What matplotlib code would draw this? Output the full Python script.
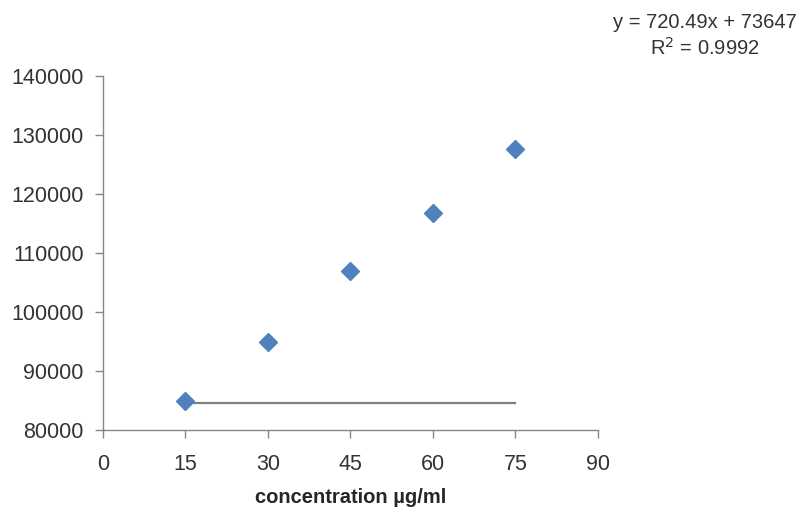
# Calibration scatter: peak area vs concentration, with the fit equation

import matplotlib.pyplot as plt
import numpy as np

conc = [15, 30, 45, 60, 75]
area = [84900, 94900, 106900, 116800, 127600]

# flat line drawn across the standards range
line_x = [15, 75]
line_y = [84500, 84500]

x_ticks = [0, 15, 30, 45, 60, 75, 90]
y_ticks = [80000, 90000, 100000, 110000, 120000, 130000, 140000]

plt.rcParams["font.family"] = ["Liberation Sans", "DejaVu Sans"]

fig = plt.figure(figsize=(8.07, 5.17), dpi=100)
ax = fig.add_axes([0.1276, 0.1683, 0.6134, 0.6847])

ax.plot(line_x, line_y, color="#7f7f7f", lw=1.6, zorder=2)
ax.plot(conc, area, linestyle="none", marker="D", markersize=9,
        color="#4f81bd", markeredgecolor="#4f81bd", zorder=3)

ax.set_xlim(0, 90)
ax.set_ylim(80000, 140000)
ax.set_xticks(x_ticks)
ax.set_yticks(y_ticks)

for side in ["top", "right"]:
    ax.spines[side].set_visible(False)
for side in ["left", "bottom"]:
    ax.spines[side].set_color("#868686")
    ax.spines[side].set_linewidth(1.0)

ax.tick_params(axis="both", colors="#868686", labelcolor="#333333",
               labelsize=15.5, length=6, width=1.0)
ax.tick_params(axis="y", pad=8)
ax.tick_params(axis="x", pad=11)

ax.set_xlabel("concentration µg/ml", fontsize=14.5, fontweight="bold",
              color="#262626", labelpad=10)

fig.text(0.874, 0.975, "y = 720.49x + 73647\nR$^2$ = 0.9992", ha="center",
         va="top", fontsize=14.5, color="#333333", linespacing=1.3)

fig.savefig("out.png", dpi=100)
